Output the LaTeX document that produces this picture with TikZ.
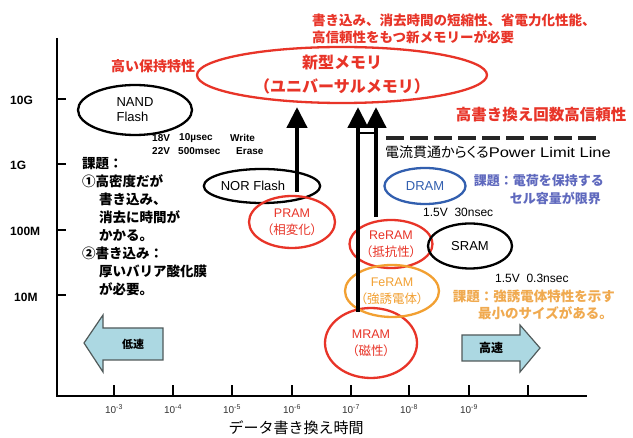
\documentclass[tikz,border=0pt]{standalone}
\usepackage{fontspec}
\usepackage{graphicx}
\setmainfont{Liberation Sans}
\newfontfamily\jp{Noto Sans CJK JP}
\newfontfamily\jpp[RawFeature=+palt]{Noto Sans CJK JP}
\usetikzlibrary{shapes.geometric,arrows.meta}
\definecolor{myred}{RGB}{232,52,40}
\definecolor{myblue}{RGB}{50,95,175}
\definecolor{bluetxt}{RGB}{95,105,190}
\definecolor{myorange}{RGB}{242,160,50}
\definecolor{orangetxt}{RGB}{240,170,80}
\definecolor{arrowfill}{RGB}{172,216,226}
\definecolor{arrowline}{RGB}{80,90,90}
\newcommand\fsz[2]{\fontsize{#1}{#2}\selectfont}
\begin{document}
\begin{tikzpicture}[x=1pt,y=-1pt,
  ell/.style={ellipse, draw, line width=2.3pt, inner sep=0pt, align=center},
  lbl/.style={inner sep=0pt},
  redtxt/.style={lbl, text=myred, font=\jp\bfseries\fsz{13.5}{16}},
  axisline/.style={line width=2pt},
  ylab/.style={lbl, anchor=west, font=\bfseries\fsz{12}{14}},
  xlab/.style={lbl, font=\fsz{10}{11}, text=black!80},
  spec/.style={lbl, anchor=west, font=\bfseries\fsz{10}{11}},
  volt/.style={lbl, anchor=west, font=\fsz{12}{14}},
  bigarr/.style={line width=4.5pt, -{Triangle[width=20pt,length=21pt]}},
  speedarrow/.style={fill=arrowfill, draw=arrowline, line width=1.2pt, line join=miter}
]
\useasboundingbox (0,0) rectangle (633,438);
\fill[white] (0,0) rectangle (633,438);

% axes
\draw[axisline] (57,38) -- (57,396) -- (587,396);
\foreach \yy in {99,164,230,295} \draw[axisline] (57,\yy) -- (66,\yy);
\foreach \xx in {114,173,232,292,351,409,469,528} \draw[axisline] (\xx,396) -- (\xx,385);

\node[ylab] (y1) at (10,100) {10G};
\node[ylab] (y2) at (10,165) {1G};
\node[ylab] (y3) at (10,231) {100M};
\node[ylab] (y4) at (14,297) {10M};

\foreach \xx/\e [count=\i] in {114/-3,173/-4,232/-5,292/-6,351/-7,409/-8,469/-9}
  \node[xlab] (xl\i) at (\xx,409) {10\textsuperscript{\e}};

\node[lbl, font=\jp\fsz{15}{17}] (xtitle) at (296,428) {データ書き換え時間};

% top texts
\node[redtxt, anchor=west] (top1) at (312,20) {書き込み、消去時間の短縮性、省電力化性能、};
\node[redtxt, anchor=west] (top2) at (312,37) {高信頼性をもつ新メモリーが必要};
\node[redtxt, font=\jp\bfseries\fsz{14}{16}] (hold) at (153,66) {高い保持特性};
\node[redtxt, font=\jp\bfseries\fsz{15.5}{17}] (hrw) at (541,115) {高書き換え回数高信頼性};

% big ellipse
\node[ell, draw=myred, minimum width=290pt, minimum height=56pt, text=myred,
      font=\jp\bfseries\fsz{16}{24}] (big) at (342,75) {新型メモリ\\（ユニバーサルメモリ）};

% NAND
\node[ell, minimum width=114pt, minimum height=50pt, font=\fsz{13}{15}, align=left] (nand) at (135,110) {NAND\\Flash};
\node[spec] (s1) at (152,138) {18V};
\node[spec] (s2) at (179,138) {10\textmu sec};
\node[spec] (s3) at (230,138) {Write};
\node[spec] (s4) at (152,151) {22V};
\node[spec] (s5) at (178,151) {500msec};
\node[spec] (s6) at (236,151) {Erase};

% power limit line
\draw[line width=4pt, dash pattern=on 18pt off 6pt, draw=black!85] (386,138) -- (600,138);
\node[lbl, anchor=west] (plim) at (385,152) {\jpp\fsz{14}{16}電流貫通からくる\fsz{14}{16}\rmfamily\scalebox{1.18}[1]{Power Limit Line}};

% left issue text
\node[lbl, anchor=north west, align=left, font=\jp\bfseries\fsz{13.5}{18}] (issue) at (82,157)
 {課題：\\①高密度だが\\\hspace*{17pt}書き込み、\\\hspace*{17pt}消去に時間が\\\hspace*{17pt}かかる。\\②書き込み：\\\hspace*{17pt}厚いバリア酸化膜\\\hspace*{17pt}が必要。};

% memory ellipses
\node[ell, minimum width=108pt, minimum height=34pt, font=\fsz{13}{15}] (nor) at (262,186) {NOR Flash\hspace*{18pt}};
\node[ell, draw=myred, text=myred, minimum width=86pt, minimum height=52pt, font=\fsz{12.5}{17}] (pram) at (292,222) {PRAM\\{\jpp （相変化）}};
\node[ell, draw=myblue, text=myblue, minimum width=81pt, minimum height=36pt, font=\fsz{13}{15}] (dram) at (425,186) {DRAM};
\node[ell, draw=myred, text=myred, minimum width=83pt, minimum height=48pt, font=\fsz{12.5}{17}] (reram) at (391,244) {ReRAM\\{\jpp （抵抗性）}};
\node[ell, minimum width=84pt, minimum height=45pt, font=\fsz{13}{15}] (sram) at (470,246) {SRAM};
\node[ell, draw=myred, text=myred, minimum width=92pt, minimum height=70pt, font=\fsz{12.5}{17}] (mram) at (371,343) {MRAM\\{\jpp （磁性）}};
\node[ell, draw=myorange, text=myorange, minimum width=94pt, minimum height=52pt, font=\fsz{12.5}{17}] (feram) at (392,291) {FeRAM\\{\jpp （強誘電体）}};

% side notes
\node[lbl, anchor=east, text=bluetxt, font=\jp\bfseries\fsz{13}{15}] (dnote1) at (604,181) {課題：電荷を保持する};
\node[lbl, anchor=east, text=bluetxt, font=\jp\bfseries\fsz{13}{15}] (dnote2) at (601,198) {セル容量が限界};
\node[volt] (v1) at (423,212) {1.5V\ \ 30nsec};
\node[volt] (v2) at (495,278) {1.5V\ \ 0.3nsec};
\node[lbl, anchor=east, text=orangetxt, font=\jp\bfseries\fsz{13.5}{15}] (fnote1) at (615,296) {課題：強誘電体特性を示す};
\node[lbl, anchor=east, text=orangetxt, font=\jp\bfseries\fsz{13.5}{15}] (fnote2) at (613,313) {最小のサイズがある。};

% big arrows
\coordinate (a1s) at (297,192);
\coordinate (a1e) at (297,107);
\coordinate (a2s) at (358,312);
\coordinate (a2e) at (358,107);
\coordinate (a3s) at (376,217);
\coordinate (a3e) at (376,107);
\draw[bigarr] (a1s) -- (a1e);
\draw[bigarr] (a2s) -- (a2e);
\draw[bigarr] (a3s) -- (a3e);
\draw[line width=1.5pt] (358,133) -- (376,133);

% speed arrows
\draw[speedarrow] (163,328) -- (103,328) -- (103,315) -- (84,343) -- (103,372) -- (103,360) -- (163,360) -- cycle;
\node[lbl, font=\jp\bfseries\fsz{11}{13}] (slow) at (133,344) {低速};
\draw[speedarrow] (462,335) -- (520,335) -- (520,325) -- (540,348) -- (520,372) -- (520,361) -- (462,361) -- cycle;
\node[lbl, font=\jp\bfseries\fsz{12}{14}] (fast) at (491,348) {高速};
\end{tikzpicture}
\end{document}
